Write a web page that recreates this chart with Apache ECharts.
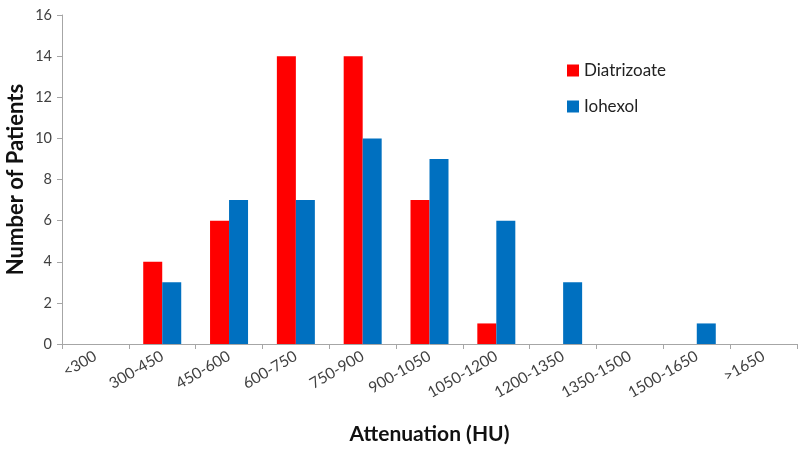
<!DOCTYPE html>
<html>
<head>
<meta charset="utf-8">
<script src="https://cdn.jsdelivr.net/npm/echarts@6/dist/echarts.min.js"></script>
<style>
  html, body { margin: 0; padding: 0; background: #fff; }
  #chart { width: 800px; height: 452px; }
</style>
</head>
<body>
<div id="chart"></div>
<script>
// attenuation bins (HU)
var categories = ['<300', '300-450', '450-600', '600-750', '750-900', '900-1050', '1050-1200', '1200-1350', '1350-1500', '1500-1650', '>1650'];
var diatrizoate = [0, 4, 6, 14, 14, 7, 1, 0, 0, 0, 0];
var iohexol = [0, 3, 7, 7, 10, 9, 6, 3, 0, 1, 0];

var chart = echarts.init(document.getElementById('chart'));
var font = 'Lato, "Open Sans", sans-serif';

chart.setOption({
  animation: false,
  textStyle: { fontFamily: font },
  grid: { left: 62, right: 3, top: 15, bottom: 108, outerBoundsMode: 'none', containLabel: false },
  legend: {
    orient: 'vertical',
    left: 562,
    top: 57,
    itemWidth: 12,
    itemHeight: 12,
    itemGap: 19,
    icon: 'rect',
    textStyle: { fontSize: 17, color: '#222', fontFamily: font },
    data: ['Diatrizoate', 'Iohexol']
  },
  xAxis: {
    type: 'category',
    data: categories,
    name: 'Attenuation (HU)',
    nameLocation: 'middle',
    nameGap: 80,
    nameMoveOverlap: false,
    nameTextStyle: { fontSize: 21, fontWeight: 'bold', color: '#111', fontFamily: font },
    axisLine: { lineStyle: { color: '#a6a6a6' } },
    axisTick: { show: true, length: 5, lineStyle: { color: '#a6a6a6' } },
    axisLabel: { rotate: 30, fontSize: 15.5, color: '#404040', margin: 11, interval: 0 }
  },
  yAxis: {
    type: 'value',
    min: 0,
    max: 16,
    interval: 2,
    name: 'Number of Patients',
    nameLocation: 'middle',
    nameGap: 35,
    nameMoveOverlap: false,
    nameTextStyle: { fontSize: 22, fontWeight: 'bold', color: '#111', fontFamily: font },
    axisLine: { show: true, lineStyle: { color: '#a6a6a6' } },
    axisTick: { show: true, length: 5, lineStyle: { color: '#a6a6a6' } },
    splitLine: { show: false },
    axisLabel: { fontSize: 14.5, color: '#404040', margin: 10 }
  },
  series: [{
    name: 'Diatrizoate',
    type: 'bar',
    barWidth: 19,
    barGap: '0%',
    itemStyle: { color: '#ff0000' },
    data: diatrizoate
  }, {
    name: 'Iohexol',
    type: 'bar',
    barWidth: 19,
    barGap: '0%',
    itemStyle: { color: '#0070c0' },
    data: iohexol
  }]
});
</script>
</body>
</html>
